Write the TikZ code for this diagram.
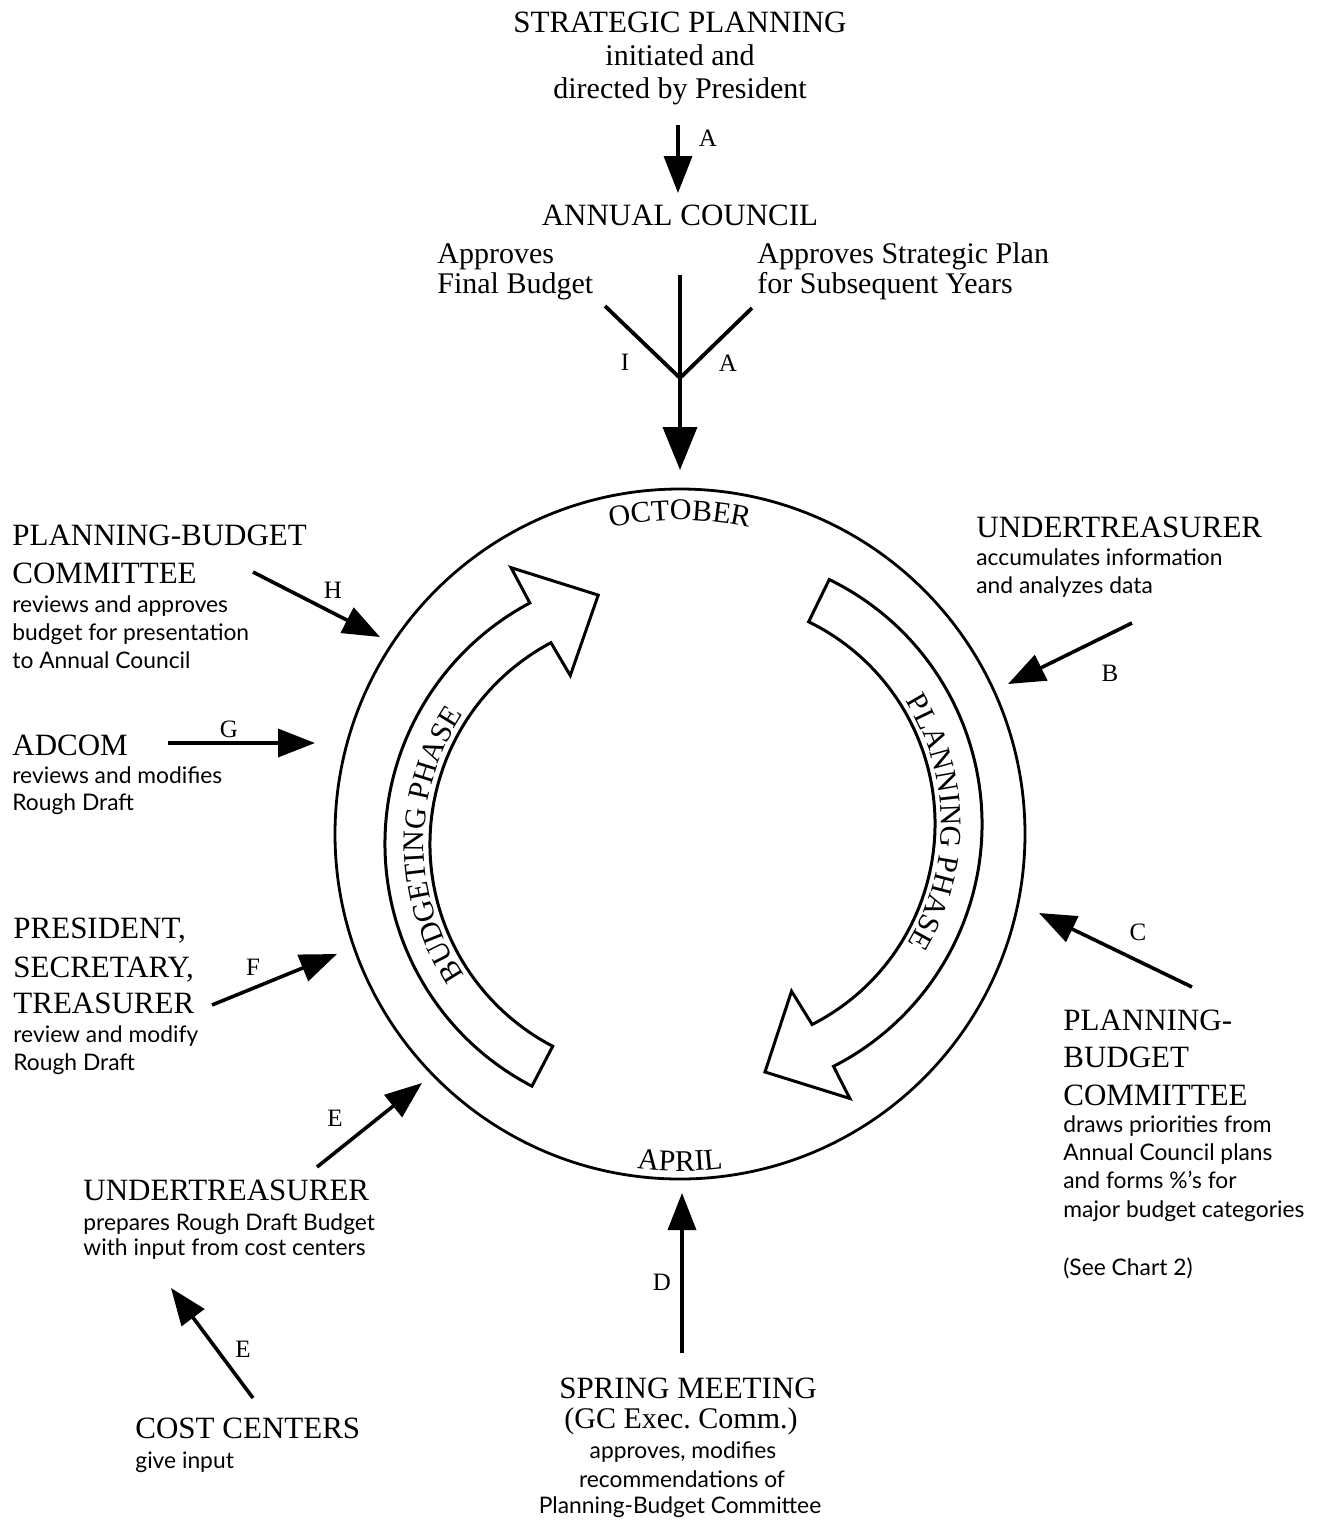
\documentclass[tikz,border=0pt]{standalone}
\usepackage{fontspec}
\setmainfont{Liberation Serif}
\newfontfamily\smallfont{Lato}
\usetikzlibrary{arrows.meta,decorations.text,calc}
\frenchspacing
\begin{document}
\begin{tikzpicture}[x=0.5pt,y=0.5pt,
  hd/.style={inner sep=0, font=\fontsize{15.5}{19}\selectfont},
  sub/.style={inner sep=0, font=\fontsize{15}{18}\selectfont},
  sm/.style={inner sep=0, font=\smallfont\fontsize{11.4}{14}\selectfont},
  lbl/.style={inner sep=0, font=\fontsize{12.5}{14}\selectfont},
  arr/.style={line width=1.8pt, -{Triangle[length=18.5pt,width=14pt]}},
  arrbig/.style={line width=1.9pt, -{Triangle[length=21.5pt,width=17pt]}},
  ring/.style={line width=1.4pt},
  phase/.style={line width=1.5pt, line join=miter, fill=white},
]
\useasboundingbox (0,0) rectangle (1320,-1523);

% ---- top block
\node[hd,anchor=base] (sp1) at (680,-32) {STRATEGIC PLANNING};
\node[sub,anchor=base] (sp2) at (680,-65) {initiated and};
\node[sub,anchor=base] (sp3) at (680,-98) {directed by President};
\coordinate (aS) at (678,-125);
\coordinate (aT) at (678,-193);
\draw[arr] (aS) -- (aT);
\node[lbl] (la1) at (708,-138) {A};

\node[hd,anchor=base] (ac) at (680,-225) {ANNUAL COUNCIL};
\node[sub,anchor=base west] (ap1) at (437,-263) {Approves};
\node[sub,anchor=base west] (ap2) at (437,-293) {Final Budget};
\node[sub,anchor=base west] (as1) at (757,-263) {Approves Strategic Plan};
\node[sub,anchor=base west] (as2) at (757,-293) {for Subsequent Years};

% Y junction
\coordinate (yt) at (680,-275);
\coordinate (yj) at (680,-378);
\coordinate (yl) at (605,-306);
\coordinate (yr) at (752,-308);
\coordinate (yT) at (680,-470);
\draw[line width=1.9pt] (yt) -- (yj);
\draw[line width=1.9pt, line join=miter] (yl) -- (yj) -- (yr);
\draw[arrbig] (yj) -- (yT);
\node[lbl] (li) at (625,-362) {I};
\node[lbl] (la2) at (728,-363) {A};

% ---- circle
\coordinate (C) at (680,-834);
\draw[ring] (C) circle[radius=345];

\path[decorate, decoration={text along path, text align=center,
  text={|\fontsize{15}{18}\selectfont|OCTOBER}}]
  ($(C)+(112:314)$) arc[start angle=112, end angle=68, radius=314];
\path[decorate, decoration={text along path, text align=center,
  text={|\fontsize{15}{18}\selectfont|APRIL}}]
  ($(C)+(252:337)$) arc[start angle=252, end angle=288, radius=337];

% ---- phase arrows
\coordinate (P) at (710,-824);
\coordinate (B) at (658,-844);
\draw[phase] ($(P)+(64:272)$) arc[start angle=64, end angle=-63, radius=272]
  -- ($(P)+(-63:308)$) -- ($(P)+(-77.5:254)$) -- ($(P)+(-64:186)$)
  -- ($(P)+(-63:225)$) arc[start angle=-63, end angle=64, radius=225] -- cycle;
\draw[phase] ($(B)+(242.5:273)$) arc[start angle=242.5, end angle=118, radius=273]
  -- ($(B)+(118:313)$) -- ($(B)+(103.5:256)$) -- ($(B)+(117.5:190)$)
  -- ($(B)+(118:228)$) arc[start angle=118, end angle=242.5, radius=228] -- cycle;

\path[decorate, decoration={text along path, text align=center,
  text={|\fontsize{15}{18}\selectfont|PLANNING PHASE}}]
  ($(P)+(64:231)$) arc[start angle=64, end angle=-63, radius=231];
\path[decorate, decoration={text along path, text align=center,
  text={|\fontsize{15}{18}\selectfont|BUDGETING PHASE}}]
  ($(B)+(242.5:234)$) arc[start angle=242.5, end angle=118, radius=234];

% ---- left side
\node[hd,anchor=base west] (pb1) at (12,-545) {PLANNING-BUDGET};
\node[hd,anchor=base west] (pb2) at (12,-583) {COMMITTEE};
\node[sm,anchor=base west] (pb3) at (12,-612) {reviews and approves};
\node[sm,anchor=base west] (pb4) at (12,-640) {budget for presentation};
\node[sm,anchor=base west] (pb5) at (12,-668) {to Annual Council};
\coordinate (hS) at (253,-572);
\coordinate (hT) at (380,-637);
\draw[arr] (hS) -- (hT);
\node[lbl] (lh) at (333,-590) {H};

\node[hd,anchor=base west] (ad1) at (12,-755) {ADCOM};
\node[sm,anchor=base west] (ad2) at (12,-783) {reviews and modifies};
\node[sm,anchor=base west] (ad3) at (12,-810) {Rough Draft};
\coordinate (gS) at (168,-743);
\coordinate (gT) at (315,-743);
\draw[arr] (gS) -- (gT);
\node[lbl] (lg) at (229,-729) {G};

\node[hd,anchor=base west] (pr1) at (13,-938) {PRESIDENT,};
\node[hd,anchor=base west] (pr2) at (13,-977) {SECRETARY,};
\node[hd,anchor=base west] (pr3) at (13,-1013) {TREASURER};
\node[sm,anchor=base west] (pr4) at (13,-1042) {review and modify};
\node[sm,anchor=base west] (pr5) at (13,-1070) {Rough Draft};
\coordinate (fS) at (212,-1005);
\coordinate (fT) at (337,-954);
\draw[arr] (fS) -- (fT);
\node[lbl] (lf) at (253,-967) {F};

\coordinate (eS) at (317,-1167);
\coordinate (eT) at (422,-1083);
\draw[arr] (eS) -- (eT);
\node[lbl] (le1) at (335,-1118) {E};

\node[hd,anchor=base west] (ut1) at (83,-1200) {UNDERTREASURER};
\node[sm,anchor=base west] (ut2) at (83,-1230) {prepares Rough Draft Budget};
\node[sm,anchor=base west] (ut3) at (83,-1255) {with input from cost centers};

\coordinate (ccS) at (253,-1398);
\coordinate (ccT) at (171,-1288);
\draw[arr] (ccS) -- (ccT);
\node[lbl] (le2) at (243,-1349) {E};
\node[hd,anchor=base west] (cc1) at (135,-1438) {COST CENTERS};
\node[sm,anchor=base west] (cc2) at (135,-1468) {give input};

% ---- right side
\node[hd,anchor=base west] (ur1) at (976,-537) {UNDERTREASURER};
\node[sm,anchor=base west] (ur2) at (976,-565) {accumulates information};
\node[sm,anchor=base west] (ur3) at (976,-593) {and analyzes data};
\coordinate (bS) at (1132,-623);
\coordinate (bT) at (1008,-684);
\draw[arr] (bS) -- (bT);
\node[lbl] (lb) at (1110,-673) {B};

\coordinate (cS) at (1192,-987);
\coordinate (cT) at (1039,-913);
\draw[arr] (cS) -- (cT);
\node[lbl] (lc) at (1138,-932) {C};

\node[hd,anchor=base west] (rc1) at (1063,-1030) {PLANNING-};
\node[hd,anchor=base west] (rc2) at (1063,-1067) {BUDGET};
\node[hd,anchor=base west] (rc3) at (1063,-1105) {COMMITTEE};
\node[sm,anchor=base west] (rc4) at (1063,-1132) {draws priorities from};
\node[sm,anchor=base west] (rc5) at (1063,-1160) {Annual Council plans};
\node[sm,anchor=base west] (rc6) at (1063,-1188) {and forms \%’s for};
\node[sm,anchor=base west] (rc7) at (1063,-1217) {major budget categories};
\node[sm,anchor=base west] (rc8) at (1063,-1275) {(See Chart 2)};

% ---- bottom
\coordinate (dS) at (682,-1353);
\coordinate (dT) at (682,-1193);
\draw[arr] (dS) -- (dT);
\node[lbl] (ld) at (662,-1282) {D};
\node[hd,anchor=base] (sm1) at (688,-1398) {SPRING MEETING};
\node[sub,anchor=base] (sm2) at (681,-1428) {(GC Exec. Comm.)};
\node[sm,anchor=base] (sm3) at (683,-1458) {approves, modifies};
\node[sm,anchor=base] (sm4) at (682,-1487) {recommendations of};
\node[sm,anchor=base] (sm5) at (680,-1513) {Planning-Budget Committee};
\end{tikzpicture}
\end{document}
